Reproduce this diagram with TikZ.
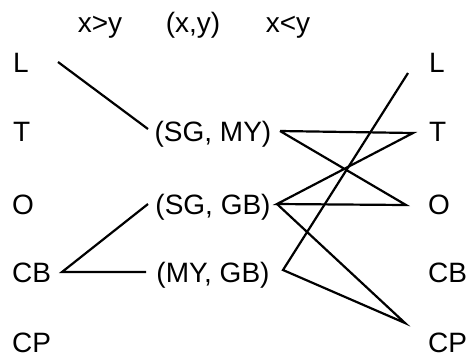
\documentclass[tikz,border=0pt]{standalone}
\usepackage{fontspec}
\setmainfont{Liberation Sans}
\begin{document}
\begin{tikzpicture}[x=1pt,y=-1pt,
  lbl/.style={inner sep=0pt,anchor=base west,font=\fontsize{28}{30}\selectfont},
  mid/.style={inner sep=0pt,anchor=base,font=\fontsize{28}{30}\selectfont},
  edge/.style={draw=black,line width=2.2pt}]
\useasboundingbox (0,0) rectangle (473,357);
% headers
\node[mid] (h1) at (100,32) {x>y};
\node[mid] (h2) at (193,32) {(x,y)};
\node[mid] (h3) at (288,32) {x<y};
% left column
\node[lbl] (lL) at (13,72) {L};
\node[lbl] (lT) at (13,141) {T};
\node[lbl] (lO) at (12,214) {O};
\node[lbl] (lCB) at (12,282) {CB};
\node[lbl] (lCP) at (12,352) {CP};
% right column
\node[lbl] (rL) at (429,72) {L};
\node[lbl] (rT) at (429,141) {T};
\node[lbl] (rO) at (428,214) {O};
\node[lbl] (rCB) at (428,282) {CB};
\node[lbl] (rCP) at (428,352) {CP};
% middle
\node[mid] (smy) at (213,141) {(SG, MY)};
\node[mid] (sgb) at (213,214) {(SG, GB)};
\node[mid] (mgb) at (213,282) {(MY, GB)};
% ports
\coordinate (pL) at (58,62);
\coordinate (pCB) at (62,272);
\coordinate (smyW) at (148,129);
\coordinate (smyE) at (280,131);
\coordinate (sgbW) at (148,204);
\coordinate (sgbE) at (277,204);
\coordinate (mgbW) at (146,272);
\coordinate (mgbE) at (283,270);
\coordinate (qL) at (408,73);
\coordinate (qT) at (413,133);
\coordinate (qO) at (406,205);
\coordinate (qCP) at (405,323);
% connectors
\draw[edge] (pL) -- (smyW);
\draw[edge] (sgbW) -- (pCB) -- (mgbW);
\draw[edge] (smyE) -- (qT) -- (sgbE) -- (qO) -- (smyE);
\draw[edge] (sgbE) -- (qCP) -- (mgbE) -- (qL);
\end{tikzpicture}
\end{document}
